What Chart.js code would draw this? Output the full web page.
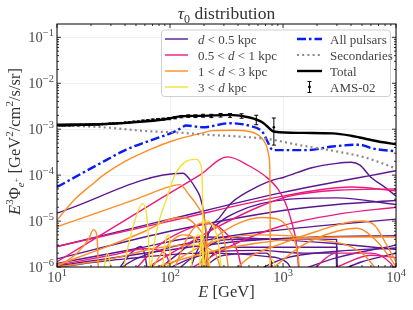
<!DOCTYPE html>
<html>
<head>
<meta charset="utf-8">
<script src="https://cdn.jsdelivr.net/npm/chart.js@4.4.0/dist/chart.umd.min.js"></script>
<style>
  html, body { margin: 0; background: #fff; }
  #wrap { width: 413px; height: 310px; }
</style>
</head>
<body>
<div id="wrap"><canvas id="c" width="413" height="310"></canvas></div>
<script>
// ---- data: [E (GeV), E^3 flux] pairs ----
const xTicks = [1e1, 1e2, 1e3, 1e4];
const yTicks = [1e-6, 1e-5, 1e-4, 1e-3, 1e-2, 1e-1];

// d < 0.5 kpc
const p1 = [[10,1.5e-5],[130,1.1e-4],[150,8e-5],[170,5e-5],[185,3.3e-5],[198,1.6e-5],[207,6e-6],[212,2e-6],[215,5e-7]];
const p2 = [[185,5e-7],[200,2e-6],[225,6.5e-6],[275,1.2e-5],[350,2.5e-5],[475,4.2e-5],[770,7.5e-5],[1020,9e-5],[1800,1.45e-4],[3000,1.8e-4],[4000,1.9e-4],[4800,1.65e-4],[6000,9e-5],[8000,5.4e-5],[10000,3.5e-5]];
const p3 = [[10,2.8e-6],[100,1.1e-5],[1000,4.2e-5],[10000,1.25e-4]];
const p4 = [[10,1.5e-6],[100,6e-6],[1000,1.7e-5],[3000,2.3e-5],[10000,2.8e-5]];
const p5 = [[25,5e-7],[50,1.5e-6],[300,4.5e-6],[1000,6.5e-6],[3000,8.5e-6],[10000,1.1e-5]];
const p6 = [[140,5e-7],[170,2e-6],[225,6e-6],[400,1.6e-5],[1140,3e-5],[3000,3.2e-5],[10000,2.3e-5]];
const p7 = [[10,1.2e-6],[50,2.5e-6],[200,4.5e-6],[800,4e-6],[3000,3.2e-6],[10000,2.4e-6]];
const p8 = [[150,5e-7],[220,1.5e-6],[300,2.7e-6],[3000,2.7e-6],[3005,5e-7]];
const p9 = [[10,1e-6],[40,1.5e-6],[200,2e-6],[700,1.7e-6],[1100,1.2e-6],[1300,5e-7]];
const p10 = [[30,5e-7],[45,2e-6],[55,2.8e-6],[60,1.8e-6],[65,5e-7]];
const p11 = [[90,5e-7],[200,2.5e-6],[300,3.9e-6],[1000,4.1e-6],[2980,4e-6],[3000,5e-7]];
const p12 = [[800,5e-7],[3000,1.6e-6],[10000,3e-6]];
const p13 = [[2000,5e-7],[5000,1.3e-6],[10000,2e-6]];
const p14 = [[150,5e-7],[300,1.8e-6],[700,2e-6],[790,1.3e-6],[800,5e-7]];
const p15 = [[10,1.05e-6],[80,2.2e-6],[400,3.6e-6],[2000,4.5e-6],[10000,4.8e-6]];
const p16 = [[400,5e-7],[1000,1.5e-6],[3000,2.2e-6],[10000,2.6e-6]];
const p17 = [[60,5e-7],[150,1.5e-6],[300,2.2e-6],[600,2.3e-6],[1500,2e-6],[2950,2e-6],[3000,5e-7]];
const p18 = [[60,5e-7],[120,2e-6],[180,4e-6],[200,3e-6],[205,5e-7]];

// 0.5 < d < 1 kpc
const k1 = [[10,1.3e-6],[81,3e-5],[183,1e-4],[325,2.5e-4],[500,1.6e-4],[715,9e-5],[900,5e-5],[1050,2.5e-5],[1200,9e-6],[1320,3e-6],[1400,5e-7]];
const k2 = [[10,2.8e-6],[100,1e-5],[1000,3.5e-5],[4000,5.5e-5],[10000,4.5e-5]];
const k3 = [[40,5e-7],[240,6.6e-6],[600,2e-5],[1140,3.5e-5],[3000,4.7e-5],[10000,5e-5]];
const k4 = [[100,5e-7],[358,3e-6],[1000,8e-6],[3000,1.4e-5],[10000,2e-5]];
const k5 = [[1500,5e-7],[3000,2e-6],[6000,2e-6],[9000,1.2e-6],[10000,8e-7]];
const k6 = [[40,5e-7],[80,3e-6],[150,7e-6],[220,9e-6],[300,6e-6],[400,2e-6],[450,5e-7]];
const k7 = [[10,1.1e-6],[30,1.8e-6],[60,2.5e-6],[90,2e-6],[110,5e-7]];
const k8 = [[3000,1e-6],[6000,1.8e-6],[10000,1.6e-6]];

// 1 < d < 3 kpc
const o1 = [[10,1.05e-5],[14.4,3e-5],[20,6e-5],[26.4,1.05e-4],[40,2e-4],[68,3.7e-4],[106,5.6e-4],[183,8e-4],[240,9.3e-4],[360,9.5e-4],[507,8.9e-4],[640,6.6e-4],[715,4.3e-4],[750,2.6e-4],[765,1.2e-4],[770,1e-5],[772,5e-7]];
const o2 = [[10,7.5e-6],[50,3e-5],[99,5.6e-5],[122,6.2e-5],[149,3.6e-5],[183,1.8e-5],[203,1e-5],[212,3e-6],[215,5e-7]];
const o3 = [[10,1e-6],[15,2e-6],[19,4e-6],[21,6.5e-6],[22.3,5.5e-6],[23,2e-6],[23.3,5e-7]];
const o4 = [[160,5e-7],[220,3e-6],[300,6e-6],[450,1e-5],[650,1.2e-5],[900,1.1e-5],[1150,6e-6],[1350,2e-6],[1430,5e-7]];
const o5 = [[300,5e-7],[500,1.6e-6],[1000,3.3e-6],[2000,6e-6],[3500,9e-6],[5000,1e-5],[6500,8e-6],[8000,3.5e-6],[10000,1.3e-6]];
const o6 = [[600,5e-7],[1500,3e-6],[3000,6e-6],[4500,7e-6],[6500,4e-6],[9000,1.5e-6],[10000,1e-6]];
const o7 = [[10,1.1e-6],[30,3e-6],[60,6e-6],[100,1.1e-5],[130,1.2e-5],[170,8e-6],[200,4e-6],[230,5e-7]];
const o8 = [[100,5e-7],[140,4e-6],[190,9e-6],[240,8e-6],[300,4e-6],[340,5e-7]];
const o9 = [[30,5e-7],[300,2.5e-6],[3000,4.5e-6],[10000,4.5e-6]];
const o10 = [[10,1e-6],[30,1.5e-6],[70,2.5e-6],[150,3e-6],[250,2e-6],[300,5e-7]];
const o11 = [[60,5e-7],[200,3e-6],[600,5e-6],[2000,4e-6],[5000,2e-6],[8000,5e-7]];
const o12 = [[60,5e-7],[90,2.5e-6],[130,5e-6],[170,4e-6],[200,1.5e-6],[210,5e-7]];

// 3 < d kpc
const y1 = [[66,5e-7],[72,3e-6],[80,1e-5],[93,3e-5],[106,8e-5],[122,1.5e-4],[145,2.1e-4],[170,2.2e-4],[185,1.8e-4],[191,1.2e-4],[194,4e-5],[195.5,8e-6],[196,5e-7]];
const y2 = [[37,5e-7],[44,4e-6],[51,1.4e-5],[57,2.4e-5],[61,1.8e-5],[64,6e-6],[67,5e-7]];
const y3 = [[180,5e-7],[190,5e-6],[210,1e-5],[240,8e-6],[270,3e-6],[290,5e-7]];
const y4 = [[84,5e-7],[92,4e-6],[98,5e-6],[100,2e-6],[101,5e-7]];
const y5 = [[25,5e-7],[28,2e-6],[31,5e-7]];
const y6 = [[195,5e-7],[215,2.5e-6],[232,5e-7]];
const y7 = [[150,5e-7],[165,4e-6],[180,5e-6],[195,2e-6],[200,5e-7]];
const y8 = [[700,5e-7],[800,1.5e-6],[900,5e-7]];

const allPulsars = [[10,5.5e-5],[27,2.1e-4],[41,3.6e-4],[66,5.6e-4],[114,9.2e-4],[140,1.2e-3],[195,1.1e-3],[340,1.35e-3],[507,1.18e-3],[660,8.6e-4],[740,5e-4],[790,3.7e-4],[835,3.5e-4],[1620,3.5e-4],[2750,4.2e-4],[4750,4.6e-4],[6200,3.8e-4],[10000,3.3e-4]];
const secondaries = [[10,1.23e-3],[27,1.09e-3],[66,9e-4],[114,8.5e-4],[210,7.6e-4],[380,7e-4],[770,6e-4],[1400,4.5e-4],[2750,3.4e-4],[5400,2.4e-4],[10000,1.4e-4]];
const total = [[10,1.25e-3],[27,1.3e-3],[54,1.44e-3],[90,1.65e-3],[130,1.93e-3],[183,1.95e-3],[340,2.05e-3],[507,1.8e-3],[660,1.4e-3],[770,1e-3],[820,9e-4],[850,8.8e-4],[1500,8.3e-4],[2750,8.1e-4],[4000,7.2e-4],[4750,6.6e-4],[7000,5.4e-4],[10000,4.7e-4]];

const amsE = [10.5,11.1,11.7,12.3,13,13.7,14.4,15.2,16.1,17.1,18.1,19.3,20.6,22,23.5,25.2,27.2,29.3,31.6,34.2,37,40.2,43.8,47.9,52.5,57.7,63.6,70.4,78.3,87.5,98.3,111,126,145,168,196,232,280,340,430,580,830];
const amsV = [1.2e-3,1.21e-3,1.2e-3,1.22e-3,1.21e-3,1.22e-3,1.23e-3,1.22e-3,1.24e-3,1.23e-3,1.25e-3,1.24e-3,1.26e-3,1.27e-3,1.27e-3,1.29e-3,1.3e-3,1.32e-3,1.33e-3,1.35e-3,1.36e-3,1.39e-3,1.41e-3,1.45e-3,1.46e-3,1.52e-3,1.55e-3,1.6e-3,1.63e-3,1.66e-3,1.7e-3,1.78e-3,1.88e-3,1.93e-3,1.92e-3,1.97e-3,1.95e-3,2.02e-3,2.0e-3,1.95e-3,1.63e-3,1.1e-3];
const amsErr = [2.4e-5,2.4e-5,2.4e-5,2.4e-5,2.4e-5,2.4e-5,2.5e-5,2.5e-5,2.5e-5,2.5e-5,2.5e-5,2.5e-5,2.6e-5,2.6e-5,2.6e-5,2.7e-5,2.8e-5,2.9e-5,3e-5,3.2e-5,3.4e-5,3.6e-5,4e-5,4.5e-5,5e-5,5.5e-5,6e-5,6.5e-5,7e-5,8e-5,9e-5,1e-4,1.1e-4,1.2e-4,1.3e-4,1.45e-4,1.6e-4,1.8e-4,1.9e-4,2.2e-4,3.8e-4,6.5e-4];

const groupColors = ['#5a1790', '#ea1a7e', '#ff8d25', '#f3e136'];
const groups = [
  [p1,p2,p3,p4,p5,p6,p7,p8,p9,p10,p11,p12,p13,p14,p15,p16,p17,p18],
  [k1,k2,k3,k4,k5,k6,k7,k8],
  [o1,o2,o3,o4,o5,o6,o7,o8,o9,o10,o11,o12],
  [y1,y2,y3,y4,y5,y6,y7,y8]
];

const toXY = arr => arr.map(([x, y]) => ({ x, y }));

// first dataset is drawn on top in chart.js
const datasets = [
  { data: amsE.map((e, i) => ({ x: e, y: amsV[i] })), showLine: false, pointRadius: 1.3, pointBackgroundColor: '#000', pointBorderWidth: 0 },
  { data: toXY(total), borderColor: '#000', borderWidth: 2.4, pointRadius: 0 },
  { data: toXY(secondaries), borderColor: '#8a8a8a', borderWidth: 2.2, borderDash: [2, 3.2], pointRadius: 0 },
  { data: toXY(allPulsars), borderColor: '#0a1cf5', borderWidth: 2.4, borderDash: [9, 3, 2.5, 3], pointRadius: 0 }
];
groups.slice().reverse().forEach((g, gi) => {
  const color = groupColors[3 - gi];
  g.forEach(c => datasets.push({ data: toXY(c), borderColor: color, borderWidth: 1.4, pointRadius: 0 }));
});
datasets.forEach(d => { d.showLine = d.showLine !== false; d.cubicInterpolationMode = 'monotone'; });

const SERIF = '"Liberation Serif", "DejaVu Serif", serif';
const font = (size, style) => (style || '') + ' ' + size + 'px ' + SERIF;

function drawParts(ctx, parts, x, y, align) {
  let w = 0;
  parts.forEach(p => { ctx.font = p[1]; w += ctx.measureText(p[0]).width; });
  let cx = align === 'right' ? x - w : align === 'center' ? x - w / 2 : x;
  parts.forEach(p => {
    ctx.font = p[1];
    ctx.fillText(p[0], cx, y + (p[2] || 0));
    cx += ctx.measureText(p[0]).width;
  });
}

const isMajor = v => Math.abs(Math.log10(v) - Math.round(Math.log10(v))) < 1e-9;

const decorPlugin = {
  id: 'decor',
  afterDatasetsDraw(chart) {
    const { ctx, chartArea: a, scales: { x, y } } = chart;
    ctx.save();

    // error bars
    ctx.strokeStyle = '#000';
    ctx.lineWidth = 1;
    amsE.forEach((e, i) => {
      const px = x.getPixelForValue(e);
      const lo = y.getPixelForValue(amsV[i] - amsErr[i]);
      const hi = y.getPixelForValue(amsV[i] + amsErr[i]);
      ctx.beginPath();
      ctx.moveTo(px, lo); ctx.lineTo(px, hi);
      ctx.moveTo(px - 2, lo); ctx.lineTo(px + 2, lo);
      ctx.moveTo(px - 2, hi); ctx.lineTo(px + 2, hi);
      ctx.stroke();
    });

    // frame
    ctx.lineWidth = 1;
    ctx.strokeStyle = '#000';
    ctx.strokeRect(a.left, a.top, a.right - a.left, a.bottom - a.top);

    // inward ticks on all sides
    ctx.lineWidth = 0.8;
    ctx.beginPath();
    for (let e = 1; e <= 4; e++) {
      for (let m = 1; m <= 9; m++) {
        const v = m * Math.pow(10, e);
        if (e === 4 && m > 1) continue;
        const px = x.getPixelForValue(v);
        const len = m === 1 ? 4 : 2;
        ctx.moveTo(px, a.bottom); ctx.lineTo(px, a.bottom - len);
        ctx.moveTo(px, a.top); ctx.lineTo(px, a.top + len);
      }
    }
    for (let e = -6; e <= -1; e++) {
      for (let m = 1; m <= 9; m++) {
        const v = m * Math.pow(10, e);
        if (v > y.max) continue;
        const py = y.getPixelForValue(v);
        const len = m === 1 ? 4 : 2;
        ctx.moveTo(a.left, py); ctx.lineTo(a.left + len, py);
        ctx.moveTo(a.right, py); ctx.lineTo(a.right - len, py);
      }
    }
    ctx.stroke();

    // tick labels
    ctx.fillStyle = '#4a4a4a';
    ctx.textBaseline = 'alphabetic';
    yTicks.forEach(v => {
      const py = y.getPixelForValue(v);
      drawParts(ctx, [['10', font(14.5)], ['\u2212' + (-Math.round(Math.log10(v))), font(10.5), -6]], a.left - 3, py + 5, 'right');
    });
    xTicks.forEach(v => {
      const px = x.getPixelForValue(v);
      drawParts(ctx, [['10', font(14.5)], [String(Math.round(Math.log10(v))), font(10.5), -6]], px, a.bottom + 15, 'center');
    });

    // axis titles and title
    ctx.fillStyle = '#333';
    const cx = (a.left + a.right) / 2;
    drawParts(ctx, [['E', font(16.5, 'italic')], [' [GeV]', font(16.5)]], cx, 297, 'center');
    drawParts(ctx, [['\u03c4', font(17.5, 'italic')], ['0', font(12), 3.5], [' distribution', font(17.5)]], cx, 19, 'center');
    ctx.save();
    ctx.translate(20, (a.top + a.bottom) / 2 - 4);
    ctx.rotate(-Math.PI / 2);
    drawParts(ctx, [
      ['E', font(16.5, 'italic')], ['3', font(11), -7], ['\u03a6', font(16.5)], ['e', font(11, 'italic'), 3.5], ['+', font(8.5), -1],
      [' [GeV', font(16.5)], ['2', font(11), -7], ['/cm', font(16.5)], ['2', font(11), -7], ['/s/sr]', font(16.5)]
    ], 0, 0, 'center');
    ctx.restore();

    // legend
    const L = { x: 161.5, y: 30, w: 229, h: 66.5 };
    ctx.fillStyle = 'rgba(255,255,255,0.85)';
    ctx.strokeStyle = '#d0d0d0';
    ctx.lineWidth = 1;
    ctx.beginPath();
    ctx.roundRect(L.x, L.y, L.w, L.h, 3);
    ctx.fill(); ctx.stroke();
    const rows = [39, 55, 71, 87];
    ctx.lineWidth = 1.4;
    groupColors.forEach((c, i) => {
      ctx.strokeStyle = c;
      ctx.setLineDash([]);
      ctx.beginPath(); ctx.moveTo(165, rows[i]); ctx.lineTo(188, rows[i]); ctx.stroke();
    });
    ctx.fillStyle = '#444';
    const lf = font(13), li = font(13, 'italic');
    drawParts(ctx, [['d', li], [' < 0.5 kpc', lf]], 198, rows[0] + 4.5);
    drawParts(ctx, [['0.5 < ', lf], ['d', li], [' < 1 kpc', lf]], 198, rows[1] + 4.5);
    drawParts(ctx, [['1 < ', lf], ['d', li], [' < 3 kpc', lf]], 198, rows[2] + 4.5);
    drawParts(ctx, [['3 < ', lf], ['d', li], [' kpc', lf]], 198, rows[3] + 4.5);

    ctx.lineWidth = 2.4;
    ctx.strokeStyle = '#0a1cf5';
    ctx.setLineDash([9, 3, 2.5, 3]);
    ctx.beginPath(); ctx.moveTo(297, rows[0]); ctx.lineTo(322, rows[0]); ctx.stroke();
    ctx.lineWidth = 2.2;
    ctx.strokeStyle = '#8a8a8a';
    ctx.setLineDash([2, 3.2]);
    ctx.beginPath(); ctx.moveTo(297, rows[1]); ctx.lineTo(322, rows[1]); ctx.stroke();
    ctx.setLineDash([]);
    ctx.lineWidth = 2.4;
    ctx.strokeStyle = '#000';
    ctx.beginPath(); ctx.moveTo(297, rows[2]); ctx.lineTo(322, rows[2]); ctx.stroke();
    ctx.lineWidth = 1;
    ctx.beginPath();
    ctx.moveTo(309.5, rows[3] - 5.5); ctx.lineTo(309.5, rows[3] + 5.5);
    ctx.moveTo(307.5, rows[3] - 5.5); ctx.lineTo(311.5, rows[3] - 5.5);
    ctx.moveTo(307.5, rows[3] + 5.5); ctx.lineTo(311.5, rows[3] + 5.5);
    ctx.stroke();
    ctx.fillStyle = '#000';
    ctx.beginPath(); ctx.arc(309.5, rows[3], 1.4, 0, Math.PI * 2); ctx.fill();
    ctx.fillStyle = '#444';
    drawParts(ctx, [['All pulsars', lf]], 330, rows[0] + 4.5);
    drawParts(ctx, [['Secondaries', lf]], 330, rows[1] + 4.5);
    drawParts(ctx, [['Total', lf]], 330, rows[2] + 4.5);
    drawParts(ctx, [['AMS-02', lf]], 330, rows[3] + 4.5);

    ctx.restore();
  }
};

const gridColor = c => (c.tick && isMajor(c.tick.value)) ? '#ececec' : 'rgba(0,0,0,0)';

new Chart(document.getElementById('c'), {
  type: 'scatter',
  data: { datasets },
  options: {
    responsive: false,
    animation: false,
    events: [],
    layout: { padding: { left: 57, right: 17, top: 24, bottom: 43 } },
    plugins: { legend: { display: false }, tooltip: { enabled: false } },
    scales: {
      x: {
        type: 'logarithmic', min: 10, max: 10000,
        ticks: { display: false },
        grid: { color: gridColor, drawTicks: false, lineWidth: 0.8 },
        border: { display: false }
      },
      y: {
        type: 'logarithmic', min: 1e-6, max: 0.195,
        ticks: { display: false },
        grid: { color: gridColor, drawTicks: false, lineWidth: 0.8 },
        border: { display: false }
      }
    }
  },
  plugins: [decorPlugin]
});
</script>
</body>
</html>
